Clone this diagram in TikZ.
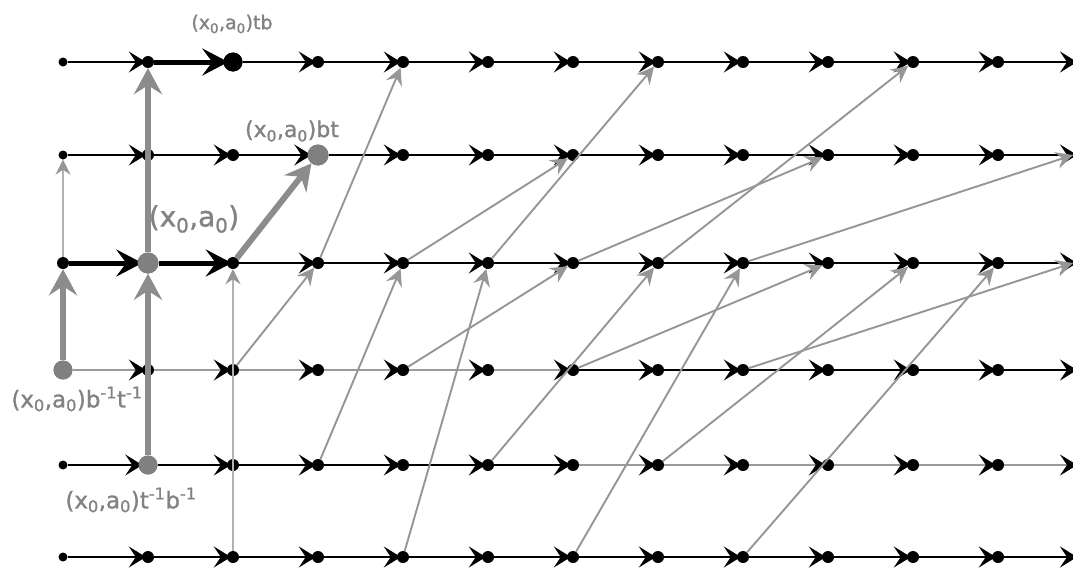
\documentclass[tikz,border=0pt]{standalone}
\usepackage{fontspec}
\setmainfont[FakeBold=1.2]{DejaVu Sans}
\usetikzlibrary{arrows.meta}
\definecolor{bgray}{RGB}{150,150,150}
\definecolor{thgray}{RGB}{140,140,140}
\definecolor{fgray}{RGB}{178,178,178}
\definecolor{hgray}{RGB}{155,155,155}
\definecolor{dotgray}{RGB}{128,128,128}
\definecolor{labgray}{RGB}{130,130,130}
\newcommand{\xaz}{(x\textsubscript{0},a\textsubscript{0})}
\newcommand{\myinv}{\textsuperscript{-1}}
\begin{document}
\begin{tikzpicture}[x=1pt,y=-1pt,
  dot/.style={circle,fill=black,inner sep=0pt,minimum size=12pt},
  sdot/.style={circle,fill=black,inner sep=0pt,minimum size=9pt},
  gdot/.style={circle,fill=dotgray,inner sep=0pt,minimum size=21pt},
  bdot/.style={circle,fill=black,inner sep=0pt,minimum size=19pt},
  tedge/.style={line width=2.2pt,draw=black,-{Stealth[length=17pt,width=21pt,inset=7pt,color=black]},shorten >=-4pt},
  tgedge/.style={tedge,draw=hgray},
  ttedge/.style={line width=5pt,draw=black,-{Stealth[length=26pt,width=27pt,inset=10pt]},shorten >=-5pt},
  bedge/.style={line width=1.9pt,draw=bgray,-{Stealth[length=17pt,width=17pt,inset=6pt]}},
  bbedge/.style={line width=6pt,draw=thgray,-{Stealth[length=26pt,width=28pt,inset=9pt]}},
  bfaint/.style={line width=1.3pt,draw=fgray,-{Stealth[length=15pt,width=15pt,inset=5pt,color=bgray]}},
  lab/.style={text=labgray,inner sep=0pt}
]
\useasboundingbox (0,0) rectangle (1073,570);
\fill[white] (0,0) rectangle (1073,570);
% grid points
\foreach \r/\y in {0/62,1/155,2/263,3/370,4/465,5/557}{
  \node[sdot] (n\r-0) at (63,\y) {};
  \foreach \c in {1,...,11}{ \node[dot] (n\r-\c) at ({63+85*\c},\y) {}; }
  \coordinate (n\r-12) at (1073,\y);
}
\node[dot] (n2-0) at (63,263) {};
\node[bdot] (n0-2) at (233,62) {};
\node[gdot] (n2-1) at (148,263) {};
\node[gdot] (n1-3) at (318,155) {};
\node[gdot,minimum size=19pt] (n3-0) at (63,370) {};
\node[gdot,minimum size=19pt] (n4-1) at (148,465) {};
% t edges (black horizontal)
\foreach \r in {1,5}{\foreach \c [count=\d from 1] in {0,...,11}{\draw[tedge] (n\r-\c) -- (n\r-\d);}}
\draw[tedge] (n0-0) -- (n0-1);
\draw[ttedge] (n0-1) -- (n0-2);
\foreach \c [count=\d from 3] in {2,...,11}{\draw[tedge] (n0-\c) -- (n0-\d);}
\draw[ttedge] (n2-0) -- (n2-1);
\draw[ttedge] (n2-1) -- (n2-2);
\foreach \c [count=\d from 3] in {2,...,11}{\draw[tedge] (n2-\c) -- (n2-\d);}
\foreach \c [count=\d from 1] in {0,...,5}{\draw[tgedge] (n3-\c) -- (n3-\d);}
\foreach \c [count=\d from 7] in {6,...,11}{\draw[tedge] (n3-\c) -- (n3-\d);}
\foreach \c [count=\d from 1] in {0,...,5}{\draw[tedge] (n4-\c) -- (n4-\d);}
\foreach \c [count=\d from 7] in {6,...,11}{\draw[tgedge] (n4-\c) -- (n4-\d);}
% b edges (gray)
\draw[bfaint] (n2-0) -- (n1-0);
\draw[bfaint] (n5-2) -- (n2-2);
\draw[bedge] (n3-2) -- (n2-3);
\draw[bedge] (n2-3) -- (n0-4);
\draw[bedge] (n4-3) -- (n2-4);
\draw[bedge] (n5-4) -- (n2-5);
\draw[bedge] (n2-4) -- (n1-6);
\draw[bedge] (n3-4) -- (n2-6);
\draw[bedge] (n2-5) -- (n0-7);
\draw[bedge] (n4-5) -- (n2-7);
\draw[bedge] (n5-6) -- (n2-8);
\draw[bedge] (n2-6) -- (n1-9);
\draw[bedge] (n3-6) -- (n2-9);
\draw[bedge] (n2-7) -- (n0-10);
\draw[bedge] (n4-7) -- (n2-10);
\draw[bedge] (n5-8) -- (n2-11);
\draw[bedge] (n2-8) -- (n1-12);
\draw[bedge] (n3-8) -- (n2-12);
\draw[bbedge] (n4-1) -- (n2-1);
\draw[bbedge] (n2-1) -- (n0-1);
\draw[bbedge] (n3-0) -- (n2-0);
\draw[bbedge] (n2-2) -- (n1-3);
% special dots on top
\fill[dotgray] (n2-1) circle (10.5pt);
\fill[dotgray] (n1-3) circle (10.5pt);
\fill[dotgray] (n3-0) circle (9.5pt);
\fill[dotgray] (n4-1) circle (9.5pt);
\fill[black] (n0-2) circle (9.5pt);
% labels
\node[lab,font=\fontsize{19}{21}\selectfont] (ltb) at (232,24) {\xaz tb};
\node[lab,font=\fontsize{22}{24}\selectfont] (lbt) at (292,131) {\xaz bt};
\node[lab,font=\fontsize{28}{30}\selectfont] (lx) at (194,219) {\xaz};
\node[lab,font=\fontsize{23}{25}\selectfont] (lbi) at (77,399) {\xaz b\myinv t\myinv};
\node[lab,font=\fontsize{23}{25}\selectfont] (lti) at (131,500) {\xaz t\myinv b\myinv};
\end{tikzpicture}
\end{document}
